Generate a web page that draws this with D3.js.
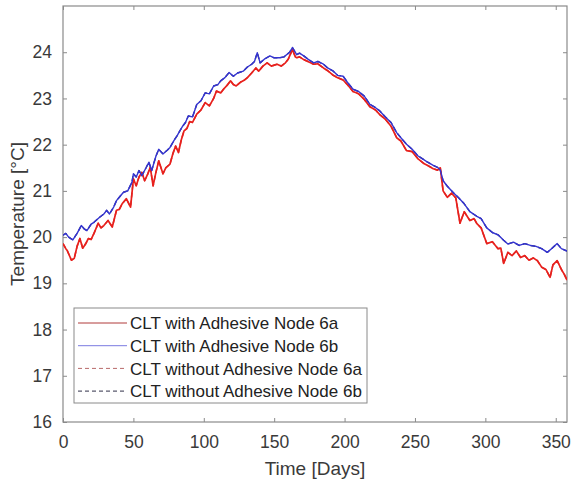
<!DOCTYPE html>
<html><head><meta charset="utf-8">
<script src="https://cdn.jsdelivr.net/npm/d3@7"></script>
<style>body{margin:0;background:#fff}svg{display:block}</style>
</head><body><div id="c"></div>
<script>
const seriesNames = ["CLT with Adhesive Node 6a","CLT with Adhesive Node 6b","CLT without Adhesive Node 6a","CLT without Adhesive Node 6b"];
const xTicks = [0,50,100,150,200,250,300,350];
const yTicks = [16,17,18,19,20,21,22,23,24];

const days6a = [0,2,3,6,8,10,12,14,16,18,20,22,25,27,29,32,35,38,40,42,45,48,50,52,54,56,58,60,62,64,66,68,71,73,76,78,80,82,84,86,88,90,92,95,98,101,104,107,109,112,114,117,119,121,123,126,129,131,134,137,139,142,145,148,150,152,155,158,160,163,165,166,168,171,174,178,181,185,188,192,195,199,202,206,210,214,218,222,225,229,233,237,240,244,248,252,256,259,263,266,268,270,273,276,279,282,285,289,292,294,297,301,305,309,311,313,316,319,322,325,328,331,334,337,340,343,346,348,351,354,356,358];
const temp6a = [19.86,19.75,19.71,19.5,19.54,19.8,19.97,19.76,19.85,19.97,19.95,20.08,20.3,20.2,20.25,20.36,20.22,20.58,20.6,20.72,20.83,20.65,21.26,21.11,21.3,21.4,21.22,21.35,21.51,21.11,21.4,21.65,21.37,21.5,21.58,21.8,21.97,21.83,22.1,22.3,22.35,22.5,22.48,22.66,22.75,22.91,22.84,23.0,23.16,23.12,23.2,23.3,23.38,23.3,23.27,23.35,23.4,23.45,23.55,23.66,23.59,23.7,23.77,23.7,23.72,23.74,23.7,23.77,23.85,24.06,23.9,23.88,23.9,23.84,23.8,23.74,23.75,23.66,23.6,23.5,23.45,23.4,23.3,23.15,23.1,22.98,22.82,22.75,22.65,22.55,22.4,22.15,22.08,21.87,21.85,21.7,21.6,21.55,21.48,21.45,21.5,21.0,20.86,20.95,20.85,20.3,20.55,20.36,20.4,20.29,20.2,19.86,19.9,19.75,19.76,19.43,19.67,19.6,19.7,19.56,19.6,19.5,19.55,19.49,19.35,19.3,19.13,19.4,19.49,19.3,19.2,19.07];

const days6b = [0,2,4,7,10,13,15,17,20,22,26,29,31,33,36,38,41,43,46,49,50,52,54,56,59,61,63,66,68,71,74,76,79,81,83,85,87,89,92,95,98,101,104,107,110,112,115,118,121,124,128,131,134,136,138,140,143,147,150,154,157,159,161,163,166,168,171,174,178,181,185,188,192,195,199,202,206,210,214,218,222,225,229,233,237,240,244,248,252,256,259,263,266,268,270,273,278,281,285,289,294,297,301,305,309,313,316,320,324,328,332,336,340,344,347,351,354,358];
const temp6b = [20.04,20.08,20.0,19.94,20.08,20.25,20.18,20.14,20.28,20.32,20.43,20.5,20.58,20.5,20.65,20.79,20.9,20.97,21.0,21.19,21.37,21.3,21.44,21.33,21.5,21.62,21.44,21.75,21.9,21.8,21.88,21.94,22.1,22.19,22.3,22.4,22.48,22.62,22.6,22.87,22.95,23.12,23.1,23.27,23.3,23.38,23.45,23.56,23.48,23.55,23.59,23.68,23.74,23.8,23.99,23.77,23.85,23.92,23.88,23.88,23.9,23.95,24.0,24.1,23.95,23.98,23.92,23.85,23.77,23.8,23.74,23.66,23.59,23.5,23.48,23.35,23.2,23.15,23.05,22.87,22.8,22.73,22.6,22.48,22.26,22.15,22.01,21.9,21.76,21.68,21.62,21.55,21.51,21.45,21.22,21.1,20.94,20.85,20.72,20.55,20.45,20.4,20.2,20.1,20.05,19.93,19.85,19.89,19.82,19.86,19.82,19.8,19.75,19.67,19.75,19.86,19.75,19.7];

// Without-adhesive measurements coincide with the with-adhesive curves in the picture
const daysNo6a = days6a, tempNo6a = temp6a;
const daysNo6b = days6b, tempNo6b = temp6b;

const W = 571, H = 488;
const m = {l:63, r:4, t:6, b:66};
const svg = d3.select("#c").append("svg").attr("width",W).attr("height",H)
  .style("font-family","'Liberation Sans', Arial, sans-serif");

const x = d3.scaleLinear().domain([0,358]).range([m.l, W-m.r]);
const y = d3.scaleLinear().domain([16,25]).range([H-m.b, m.t]);

const axisCol = "#8a8a8a", textCol = "#3a3a3a";

svg.append("rect").attr("x",m.l).attr("y",m.t).attr("width",W-m.r-m.l).attr("height",H-m.b-m.t)
  .attr("fill","#fff").attr("stroke",axisCol).attr("stroke-width",1.2);

function styleAxis(g){
  g.select(".domain").remove();
  g.selectAll(".tick line").attr("stroke",axisCol).attr("stroke-width",1);
  g.selectAll(".tick text").attr("fill",textCol).style("font-size","17.5px");
}
const xb = svg.append("g").attr("transform",`translate(0,${H-m.b})`)
  .call(d3.axisBottom(x).tickValues(xTicks).tickSize(-4).tickPadding(14)); styleAxis(xb);
const xt = svg.append("g").attr("transform",`translate(0,${m.t})`)
  .call(d3.axisTop(x).tickValues(xTicks).tickSize(-4).tickFormat("")); styleAxis(xt);
const yl = svg.append("g").attr("transform",`translate(${m.l},0)`)
  .call(d3.axisLeft(y).tickValues(yTicks).tickSize(-4).tickPadding(11)); styleAxis(yl);
const yr = svg.append("g").attr("transform",`translate(${W-m.r},0)`)
  .call(d3.axisRight(y).tickValues(yTicks).tickSize(-4).tickFormat("")); styleAxis(yr);

svg.append("text").attr("x",(m.l+W-m.r)/2).attr("y",475).attr("text-anchor","middle")
  .attr("fill",textCol).style("font-size","19px").text("Time [Days]");
svg.append("text").attr("transform",`translate(24,${(m.t+H-m.b)/2}) rotate(-90)`).attr("text-anchor","middle")
  .attr("fill",textCol).style("font-size","19px").text("Temperature [°C]");

const series = [
  {name:seriesNames[2], d:daysNo6a, t:tempNo6a, color:"#d04040", dash:"5,3", w:1.5},
  {name:seriesNames[3], d:daysNo6b, t:tempNo6b, color:"#2a2a80", dash:"5,3", w:1.4},
  {name:seriesNames[0], d:days6a, t:temp6a, color:"#e8201c", dash:null, w:1.7},
  {name:seriesNames[1], d:days6b, t:temp6b, color:"#3434d0", dash:null, w:1.4}
];
const line = d3.line().x(p=>x(p[0])).y(p=>y(p[1]));
svg.append("clipPath").attr("id","cp").append("rect")
  .attr("x",m.l).attr("y",m.t).attr("width",W-m.r-m.l).attr("height",H-m.b-m.t);
const pg = svg.append("g").attr("clip-path","url(#cp)");
series.forEach(s=>{
  pg.append("path").datum(s.d.map((d,i)=>[d,s.t[i]])).attr("d",line)
    .attr("fill","none").attr("stroke",s.color).attr("stroke-width",s.w)
    .attr("stroke-dasharray",s.dash).attr("stroke-linejoin","round");
});

const legendItems = [
  {name:seriesNames[0], color:"#b03a3a", dash:null},
  {name:seriesNames[1], color:"#7a7ae0", dash:null},
  {name:seriesNames[2], color:"#b86a6a", dash:"4,3"},
  {name:seriesNames[3], color:"#303048", dash:"4,3"}
];
const lg = svg.append("g");
lg.append("rect").attr("x",74).attr("y",308).attr("width",293).attr("height",95)
  .attr("fill","#fff").attr("stroke",axisCol).attr("stroke-width",1);
legendItems.forEach((it,i)=>{
  const yy = 323 + i*22.7;
  lg.append("line").attr("x1",78).attr("x2",127).attr("y1",yy).attr("y2",yy)
    .attr("stroke",it.color).attr("stroke-width",1).attr("stroke-dasharray",it.dash);
  lg.append("text").attr("x",130).attr("y",yy).attr("dy","0.36em").attr("fill","#222")
    .style("font-size","17px").text(it.name);
});
</script></body></html>
